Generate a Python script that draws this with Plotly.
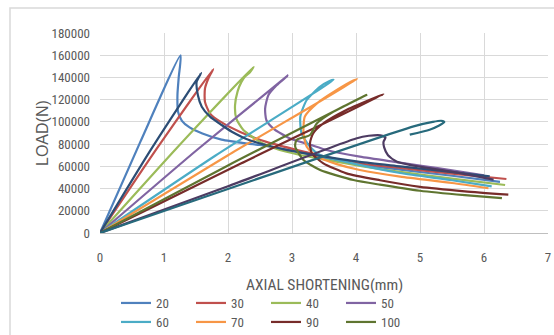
import plotly.graph_objects as go

# ---- data (axial shortening in mm, load in N) ----
names = ["20", "30", "40", "50", "60", "70", "80", "90", "100", "110", "120"]
legend_names = ["20", "30", "40", "50", "60", "70", "90", "100"]
first_row = ["20", "30", "40", "50"]

x20 = [0, 0.63, 1.26, 1.23, 1.21, 1.22, 1.28, 1.40, 1.6, 1.9, 2.3, 2.5, 3.0, 4.0, 4.69, 5.5, 6.25]
y20 = [0, 82000, 160000, 140000, 124000, 109000, 101000, 95000, 89500, 84000, 80500, 79200, 74000, 62000, 57000, 51500, 46000]

x30 = [0, 0.9, 1.77, 1.70, 1.64, 1.64, 1.72, 1.9, 2.19, 2.6, 3.1, 4.0, 4.69, 5.5, 6.35]
y30 = [0, 77000, 147500, 140000, 130000, 118000, 107500, 99500, 91000, 82000, 74500, 63000, 58500, 53500, 48600]

x40 = [0, 1.2, 2.40, 2.34, 2.27, 2.21, 2.15, 2.11, 2.13, 2.24, 2.5, 2.66, 3.0, 4.0, 4.69, 5.5, 6.33]
y40 = [0, 76500, 149500, 144500, 141000, 136000, 127500, 115000, 103000, 92700, 82000, 77700, 72000, 61000, 55000, 49000, 43200]

x50 = [0, 1.5, 2.93, 2.88, 2.76, 2.63, 2.58, 2.60, 2.71, 2.97, 3.28, 3.54, 4.06, 4.58, 5.05, 5.5, 6.0]
y50 = [0, 74000, 141500, 139000, 133000, 124000, 112000, 101500, 94000, 85000, 79500, 74700, 68700, 64200, 60300, 56500, 52000]

x60 = [0, 1.8, 3.65, 3.58, 3.44, 3.23, 3.13, 3.15, 3.28, 3.44, 4.0, 4.69, 5.5, 6.12]
y60 = [0, 69500, 137800, 136500, 131700, 119700, 104700, 89700, 77700, 70200, 62000, 54000, 47500, 42000]

x70 = [0, 2.0, 4.02, 3.95, 3.70, 3.39, 3.20, 3.18, 3.23, 3.39, 3.7, 4.06, 4.69, 5.5, 6.07]
y70 = [0, 70000, 138500, 137000, 128700, 116700, 104700, 89700, 77700, 68700, 62000, 56700, 50700, 45000, 40300]

x80 = [0, 0.8, 1.58, 1.51, 1.53, 1.59, 1.72, 1.9, 2.06, 2.34, 2.86, 3.28, 4.06, 4.69, 5.4, 6.09]
y80 = [0, 75500, 144000, 136000, 124000, 113700, 104700, 97200, 91200, 83500, 75500, 71000, 64000, 60000, 55500, 51000]

x90 = [0, 2.2, 4.43, 4.35, 3.85, 3.49, 3.33, 3.28, 3.31, 3.49, 3.85, 4.375, 5.0, 5.7, 6.38]
y90 = [0, 62500, 124800, 123000, 110700, 98700, 89700, 80700, 71700, 62700, 53700, 47500, 41500, 37500, 34500]

x100 = [0, 2.0, 4.16, 4.06, 3.65, 3.39, 3.28, 3.07, 3.05, 3.18, 3.44, 3.96, 4.375, 5.0, 5.7, 6.28]
y100 = [0, 60800, 124200, 121200, 109200, 98700, 88200, 83700, 77700, 65700, 56700, 47700, 43500, 38000, 34000, 31300]

x110 = [0, 2.0, 4.0, 4.2, 4.38, 4.46, 4.43, 4.44, 4.5, 4.64, 5.0, 5.5, 6.15]
y110 = [0, 42000, 85000, 87500, 88000, 86000, 82000, 77000, 70000, 64200, 59700, 55200, 48000]

x120 = [0, 4.9, 5.2, 5.33, 5.38, 5.30, 5.15, 4.84]
y120 = [0, 96000, 100000, 101000, 99800, 96800, 93000, 88500]

xs = [x20, x30, x40, x50, x60, x70, x80, x90, x100, x110, x120]
ys = [y20, y30, y40, y50, y60, y70, y80, y90, y100, y110, y120]

colors = ["#4F81BD", "#C0504D", "#9BBB59", "#8064A2", "#4BACC6", "#F79646",
          "#2C4D75", "#772C2A", "#5F7530", "#4D3B62", "#276A7C"]

x_ticks = [0, 1, 2, 3, 4, 5, 6, 7]
y_ticks = [0, 20000, 40000, 60000, 80000, 100000, 120000, 140000, 160000, 180000]
x_title = "AXIAL SHORTENING(mm)"
y_title = "LOAD(N)"

FONT = "Liberation Sans Narrow, Roboto Condensed, DejaVu Sans Condensed, Liberation Sans, sans-serif"
GRAY = "#595959"

fig = go.Figure()
for name, x, y, c in zip(names, xs, ys, colors):
    fig.add_trace(go.Scatter(
        x=x, y=y, name=name, mode="lines",
        line=dict(color=c, width=2.2, shape="spline", smoothing=0.6),
        showlegend=name in legend_names,
        legend="legend" if name in first_row else "legend2",
    ))

leg_common = dict(orientation="h", xref="container", yref="container", x=0.2094, xanchor="left",
                  yanchor="middle", entrywidth=30, font=dict(size=13, color=GRAY),
                  bgcolor="rgba(0,0,0,0)")

fig.update_layout(
    width=554, height=335,
    margin=dict(l=100, r=6, t=33, b=102),
    paper_bgcolor="white", plot_bgcolor="white",
    font=dict(family=FONT, size=13, color=GRAY),
    xaxis=dict(
        range=[0, 7], tickvals=x_ticks, showgrid=True, gridcolor="#D9D9D9", gridwidth=1,
        zeroline=False, showline=True, linecolor="#BFBFBF", linewidth=1, automargin=False,
        ticks="", ticklabelstandoff=12, tickfont=dict(size=13, color=GRAY),
    ),
    yaxis=dict(
        range=[0, 180000], tickvals=y_ticks, tickformat="d", showgrid=True, automargin=False,
        gridcolor="#D9D9D9", gridwidth=1, zeroline=False, showline=False,
        ticks="", ticklabelstandoff=9, tickfont=dict(size=13, color=GRAY),
    ),
    legend=dict(y=0.0955, **leg_common),
    legend2=dict(y=0.0388, **leg_common),
    annotations=[
        dict(text=x_title, xref="paper", yref="paper", x=0.5, y=-0.26, xanchor="center",
             yanchor="middle", showarrow=False, font=dict(size=15.5, color=GRAY)),
        dict(text=y_title, xref="paper", yref="paper", x=-0.1295, y=0.5, xanchor="center",
             yanchor="middle", textangle=-90, showarrow=False,
             font=dict(family="Liberation Sans, sans-serif", size=16, color=GRAY)),
    ],
    shapes=[dict(type="rect", xref="paper", yref="paper", x0=-0.2009, x1=1.03, y0=1.125, y1=-0.6,
                 line=dict(color="#D9D9D9", width=1.5), fillcolor="rgba(0,0,0,0)", layer="below")],
)

fig.write_html("out.html")
